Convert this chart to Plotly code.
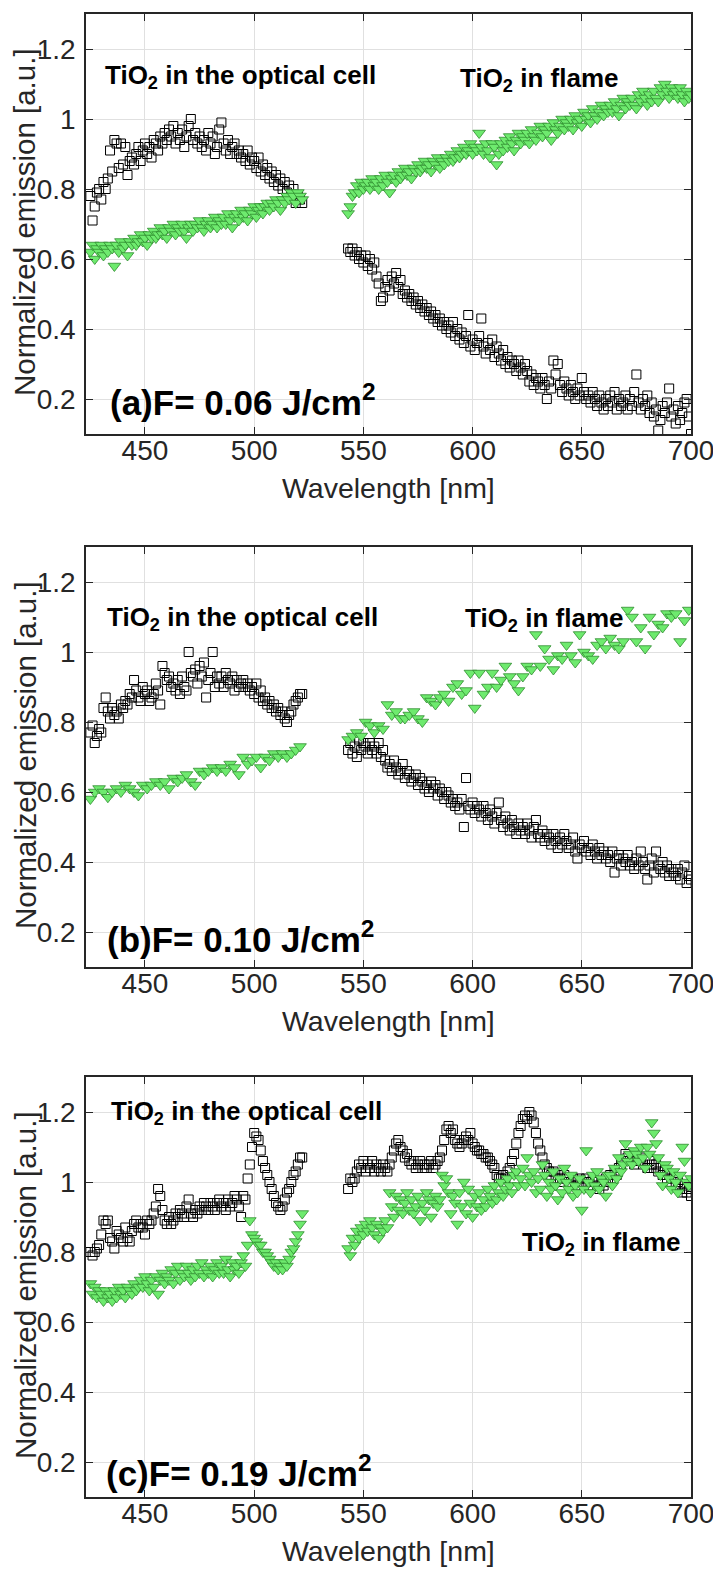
import plotly.graph_objects as go

# ---------------- data ----------------
wl_seg1 = list(range(425, 523))          # 425 ... 522 nm
wl_seg2 = list(range(543, 701))          # 543 ... 700 nm
wl_fine = wl_seg1 + wl_seg2
wl_coarse = list(range(425, 522, 2)) + list(range(543, 700, 2))

x_ticks = [450, 500, 550, 600, 650, 700]
y_ticks = [0.2, 0.4, 0.6, 0.8, 1.0, 1.2]
y_ticklabels = ["0.2", "0.4", "0.6", "0.8", "1", "1.2"]

# (a) F = 0.06 J/cm2 -- optical cell (squares)
cell_a_s1 = [
    0.78, 0.71, 0.75, 0.79, 0.80, 0.77, 0.82, 0.80, 0.83, 0.91,
    0.85, 0.94, 0.93, 0.86, 0.93, 0.87, 0.92, 0.84, 0.88, 0.89,
    0.87, 0.90, 0.92, 0.88, 0.91, 0.93, 0.90, 0.92, 0.89, 0.94,
    0.93, 0.91, 0.95, 0.93, 0.96, 0.94, 0.97, 0.95, 0.98, 0.93,
    0.96, 0.94, 0.97, 0.92, 0.95, 0.98, 1.00, 0.94, 0.96, 0.93,
    0.95, 0.92, 0.94, 0.91, 0.96, 0.93, 0.95, 0.90, 0.92, 0.97,
    0.99, 0.93, 0.91, 0.94, 0.90, 0.92, 0.93, 0.90, 0.91, 0.89,
    0.90, 0.88, 0.91, 0.87, 0.89, 0.88, 0.86, 0.89, 0.85, 0.87,
    0.84, 0.86, 0.83, 0.85, 0.82, 0.84, 0.81, 0.83, 0.80, 0.82,
    0.79, 0.81, 0.78, 0.80, 0.76, 0.78, 0.77, 0.76,
]
cell_a_s2 = [
    0.63, 0.62, 0.63, 0.61, 0.62, 0.60, 0.61, 0.59, 0.61, 0.58,
    0.60, 0.57, 0.59, 0.55, 0.53, 0.48, 0.49, 0.52, 0.54, 0.51,
    0.55, 0.53, 0.56, 0.52, 0.54, 0.50, 0.51, 0.49, 0.50, 0.48,
    0.49, 0.47, 0.48, 0.46, 0.47, 0.45, 0.46, 0.44, 0.45, 0.43,
    0.44, 0.42, 0.43, 0.41, 0.42, 0.40, 0.41, 0.39, 0.42, 0.38,
    0.40, 0.37, 0.39, 0.36, 0.38, 0.44, 0.35, 0.37, 0.34, 0.36,
    0.38, 0.43, 0.35, 0.33, 0.36, 0.34, 0.37, 0.32, 0.35, 0.33,
    0.31, 0.34, 0.30, 0.32, 0.29, 0.31, 0.30, 0.28, 0.31, 0.29,
    0.27, 0.30, 0.28, 0.25, 0.27, 0.24, 0.26, 0.25, 0.23, 0.26,
    0.24, 0.20, 0.25, 0.23, 0.31, 0.27, 0.30, 0.24, 0.22, 0.25,
    0.23, 0.21, 0.24, 0.22, 0.20, 0.23, 0.21, 0.26, 0.22, 0.20,
    0.21, 0.19, 0.22, 0.20, 0.18, 0.21, 0.19, 0.17, 0.20, 0.18,
    0.21, 0.19, 0.22, 0.17, 0.20, 0.18, 0.19, 0.21, 0.17, 0.20,
    0.18, 0.22, 0.27, 0.19, 0.17, 0.20, 0.18, 0.21, 0.16, 0.19,
    0.15, 0.17, 0.11, 0.14, 0.18, 0.16, 0.19, 0.23, 0.15, 0.17,
    0.13, 0.18, 0.14, 0.16, 0.19, 0.20, 0.15, 0.10,
]
# (a) flame (triangles)
flame_a_s1 = [
    0.62, 0.64, 0.60, 0.63, 0.62, 0.64, 0.61, 0.63, 0.62, 0.64,
    0.63, 0.58, 0.64, 0.62, 0.65, 0.63, 0.64, 0.61, 0.65, 0.64,
    0.66, 0.64, 0.65, 0.67, 0.65, 0.66, 0.64, 0.67, 0.66, 0.68,
    0.66, 0.67, 0.69, 0.67, 0.68, 0.66, 0.69, 0.68, 0.70, 0.67,
    0.69, 0.68, 0.70, 0.68, 0.66, 0.69, 0.70, 0.68, 0.70, 0.69,
    0.71, 0.69, 0.68, 0.70, 0.71, 0.69, 0.70, 0.72, 0.69, 0.71,
    0.70, 0.72, 0.70, 0.73, 0.71, 0.69, 0.72, 0.73, 0.71, 0.74,
    0.72, 0.73, 0.71, 0.74, 0.73, 0.75, 0.72, 0.74, 0.75, 0.73,
    0.75, 0.76, 0.74, 0.76, 0.75, 0.77, 0.76, 0.74, 0.77, 0.76,
    0.78, 0.77, 0.79, 0.78, 0.76, 0.79, 0.78, 0.77,
]
flame_a_s2 = [
    0.73, 0.75, 0.78, 0.79, 0.81, 0.79, 0.82, 0.80, 0.81, 0.82,
    0.80, 0.83, 0.81, 0.82, 0.80, 0.83, 0.81, 0.84, 0.82, 0.79,
    0.83, 0.84, 0.82, 0.85, 0.83, 0.84, 0.86, 0.84, 0.85, 0.83,
    0.86, 0.85, 0.87, 0.85, 0.86, 0.88, 0.86, 0.87, 0.85, 0.88,
    0.87, 0.89, 0.86, 0.88, 0.87, 0.89, 0.88, 0.90, 0.88, 0.89,
    0.91, 0.89, 0.90, 0.92, 0.90, 0.91, 0.93, 0.90, 0.92, 0.91,
    0.96, 0.92, 0.90, 0.93, 0.91, 0.89, 0.93, 0.92, 0.87, 0.90,
    0.93, 0.91, 0.94, 0.92, 0.95, 0.93, 0.91, 0.94, 0.96, 0.93,
    0.95, 0.94, 0.96, 0.93, 0.97, 0.95, 0.94, 0.96, 0.98, 0.95,
    0.97, 0.96, 0.98, 0.94, 0.99, 0.97, 0.96, 0.98, 1.00, 0.97,
    0.99, 0.98, 1.00, 0.97, 1.01, 0.99, 1.00, 0.98, 1.02, 1.00,
    1.01, 0.99, 1.03, 1.01, 1.00, 1.02, 1.04, 1.01, 1.03, 1.02,
    1.04, 1.02, 1.05, 1.03, 1.01, 1.04, 1.06, 1.03, 1.05, 1.04,
    1.06, 1.04, 1.03, 1.07, 1.05, 1.08, 1.06, 1.04, 1.07, 1.05,
    1.08, 1.06, 1.05, 1.09, 1.07, 1.10, 1.08, 1.06, 1.09, 1.07,
    1.08, 1.06, 1.09, 1.07, 1.05, 1.08, 1.06, 1.07,
]

# (b) F = 0.10 J/cm2
cell_b_s1 = [
    0.77, 0.79, 0.74, 0.76, 0.78, 0.77, 0.84, 0.87, 0.83, 0.81,
    0.84, 0.82, 0.83, 0.81, 0.85, 0.84, 0.86, 0.85, 0.88, 0.87,
    0.92, 0.89, 0.87, 0.86, 0.90, 0.88, 0.89, 0.86, 0.87, 0.88,
    0.91, 0.89, 0.85, 0.96, 0.94, 0.92, 0.93, 0.90, 0.91, 0.89,
    0.92, 0.88, 0.93, 0.90, 0.89, 1.00, 0.94, 0.93, 0.95, 0.91,
    0.96, 0.93, 0.97, 0.87, 0.92, 0.94, 1.00, 0.90, 0.93, 0.91,
    0.93, 0.90, 0.94, 0.92, 0.91, 0.93, 0.89, 0.92, 0.90, 0.91,
    0.92, 0.90, 0.91, 0.89, 0.90, 0.88, 0.91, 0.87, 0.89, 0.86,
    0.87, 0.85, 0.86, 0.84, 0.85, 0.83, 0.84, 0.82, 0.83, 0.81,
    0.80, 0.82, 0.83, 0.85, 0.86, 0.87, 0.88, 0.88,
]
cell_b_s2 = [
    0.72, 0.74, 0.71, 0.73, 0.70, 0.75, 0.72, 0.74, 0.73, 0.71,
    0.74, 0.72, 0.73, 0.71, 0.74, 0.70, 0.72, 0.69, 0.67, 0.68,
    0.66, 0.69, 0.67, 0.65, 0.66, 0.68, 0.64, 0.66, 0.65, 0.63,
    0.64, 0.65, 0.62, 0.64, 0.63, 0.61, 0.62, 0.60, 0.63, 0.61,
    0.62, 0.59, 0.61, 0.60, 0.58, 0.60, 0.59, 0.57, 0.58, 0.56,
    0.57, 0.55, 0.58, 0.50, 0.64, 0.56, 0.55, 0.57, 0.54, 0.56,
    0.55, 0.53, 0.56, 0.54, 0.52, 0.55, 0.53, 0.51, 0.54, 0.57,
    0.52, 0.50, 0.53, 0.51, 0.49, 0.52, 0.50, 0.48, 0.51, 0.49,
    0.50, 0.48, 0.51, 0.49, 0.47, 0.50, 0.52, 0.48, 0.47, 0.49,
    0.46, 0.48, 0.47, 0.45, 0.48, 0.46, 0.44, 0.47, 0.45, 0.48,
    0.46, 0.44, 0.45, 0.47, 0.43, 0.41, 0.45, 0.44, 0.46, 0.43,
    0.44, 0.42, 0.45, 0.43, 0.41, 0.44, 0.42, 0.43, 0.41, 0.42,
    0.40, 0.43, 0.37, 0.41, 0.42, 0.39, 0.41, 0.40, 0.42, 0.39,
    0.40, 0.38, 0.41, 0.39, 0.43, 0.40, 0.38, 0.35, 0.39, 0.41,
    0.37, 0.43, 0.39, 0.38, 0.40, 0.37, 0.39, 0.36, 0.38, 0.37,
    0.36, 0.38, 0.35, 0.37, 0.39, 0.34, 0.36, 0.35,
]
flame_b = [
    # 425 ... 521 nm, every 2 nm
    0.58, 0.60, 0.61, 0.60, 0.585, 0.60, 0.61, 0.60, 0.62, 0.61,
    0.60, 0.59, 0.62, 0.61, 0.62, 0.63, 0.62, 0.63, 0.61, 0.64,
    0.63, 0.64, 0.65, 0.63, 0.62, 0.66, 0.65, 0.66, 0.67, 0.66,
    0.67, 0.66, 0.68, 0.67, 0.65, 0.70, 0.68, 0.69, 0.70, 0.67,
    0.70, 0.69, 0.71, 0.70, 0.71, 0.70, 0.71, 0.72, 0.73,
    # 543 ... 699 nm, every 2 nm
    0.75, 0.76, 0.77, 0.76, 0.80, 0.79, 0.77, 0.79, 0.78, 0.85,
    0.82, 0.83, 0.81, 0.81, 0.82, 0.83, 0.81, 0.80, 0.87, 0.86,
    0.85, 0.87, 0.88, 0.86, 0.90, 0.91, 0.88, 0.89, 0.94, 0.84,
    0.94, 0.88, 0.90, 0.94, 0.90, 0.92, 0.96, 0.93, 0.91, 0.89,
    0.93, 0.96, 0.95, 1.05, 0.96, 1.01, 0.98, 0.95, 0.99, 0.98,
    1.02, 0.99, 0.97, 1.05, 1.00, 0.99, 0.98, 1.02, 1.03, 1.01,
    1.04, 1.02, 1.01, 1.03, 1.12, 1.10, 1.03, 1.07, 1.01, 1.10,
    1.05, 1.08, 1.07, 1.11, 1.10, 1.11, 1.03, 1.09, 1.12,
]

# (c) F = 0.19 J/cm2
cell_c_s1 = [
    0.80, 0.79, 0.80, 0.81, 0.82, 0.85, 0.89, 0.88, 0.89, 0.84,
    0.83, 0.81, 0.86, 0.85, 0.84, 0.83, 0.87, 0.84, 0.83, 0.86,
    0.88, 0.89, 0.87, 0.88, 0.87, 0.85, 0.89, 0.88, 0.89, 0.91,
    0.93, 0.98, 0.96, 0.92, 0.89, 0.88, 0.90, 0.88, 0.89, 0.91,
    0.90, 0.92, 0.91, 0.90, 0.93, 0.95, 0.91, 0.90, 0.92, 0.91,
    0.93, 0.92, 0.94, 0.93, 0.92, 0.94, 0.93, 0.92, 0.94, 0.95,
    0.93, 0.94, 0.92, 0.95, 0.93, 0.94, 0.96, 0.95, 0.93, 0.90,
    0.96, 0.95, 1.01, 1.05, 1.10, 1.14, 1.13, 1.12, 1.09, 1.06,
    1.04, 1.02, 1.00, 0.98, 0.96, 0.94, 0.93, 0.92, 0.93, 0.95,
    0.97, 0.98, 1.00, 1.02, 1.03, 1.05, 1.07, 1.07,
]
cell_c_s2 = [
    0.98, 1.01, 1.00, 1.01, 1.03, 1.05, 1.04, 1.06, 1.03, 1.05,
    1.04, 1.06, 1.03, 1.05, 1.04, 1.03, 1.05, 1.04, 1.03, 1.05,
    1.07, 1.09, 1.11, 1.12, 1.10, 1.09, 1.07, 1.08, 1.06, 1.05,
    1.06, 1.04, 1.05, 1.06, 1.04, 1.05, 1.04, 1.05, 1.06, 1.04,
    1.05, 1.06, 1.07, 1.09, 1.12, 1.15, 1.16, 1.14, 1.15, 1.12,
    1.11, 1.10, 1.11, 1.12, 1.13, 1.12, 1.14, 1.11, 1.10, 1.09,
    1.09, 1.08, 1.08, 1.07, 1.07, 1.06, 1.05, 1.04, 1.02, 1.01,
    1.01, 1.02, 1.01, 1.03, 1.04, 1.06, 1.08, 1.11, 1.14, 1.16,
    1.18, 1.19, 1.18, 1.20, 1.19, 1.17, 1.14, 1.11, 1.09, 1.07,
    1.05, 1.04, 1.03, 1.02, 1.03, 1.01, 1.02, 1.01, 1.00, 1.02,
    1.01, 1.00, 0.99, 1.01, 1.00, 0.99, 1.01, 1.00, 0.99, 1.01,
    1.00, 0.99, 1.01, 1.00, 0.99, 0.98, 1.00, 0.99, 1.01, 1.00,
    1.02, 1.01, 1.03, 1.02, 1.04, 1.05, 1.06, 1.08, 1.07, 1.06,
    1.07, 1.05, 1.08, 1.06, 1.07, 1.05, 1.06, 1.04, 1.06, 1.05,
    1.04, 1.05, 1.03, 1.04, 1.02, 1.03, 1.01, 1.02, 1.00, 1.01,
    0.99, 1.00, 0.98, 0.97, 0.99, 0.97, 0.98, 0.96,
]
flame_c_s1 = [
    0.71, 0.68, 0.70, 0.67, 0.69, 0.68, 0.66, 0.69, 0.67, 0.68,
    0.66, 0.69, 0.67, 0.70, 0.68, 0.69, 0.67, 0.70, 0.69, 0.68,
    0.71, 0.69, 0.70, 0.72, 0.70, 0.73, 0.71, 0.69, 0.72, 0.70,
    0.73, 0.68, 0.72, 0.74, 0.71, 0.73, 0.72, 0.75, 0.71, 0.74,
    0.76, 0.72, 0.74, 0.73, 0.76, 0.74, 0.72, 0.75, 0.73, 0.76,
    0.74, 0.77, 0.73, 0.75, 0.74, 0.76, 0.73, 0.75, 0.77, 0.74,
    0.76, 0.74, 0.78, 0.75, 0.73, 0.77, 0.75, 0.76, 0.74, 0.77,
    0.79, 0.76, 0.82, 0.89, 0.85, 0.84, 0.83, 0.82, 0.82, 0.80,
    0.80, 0.79, 0.78, 0.77, 0.76, 0.77, 0.75, 0.76, 0.75, 0.77,
    0.76, 0.78, 0.80, 0.81, 0.83, 0.85, 0.88, 0.91,
]
flame_c_s2 = [
    0.81, 0.79, 0.84, 0.82, 0.86, 0.84, 0.87, 0.85, 0.88, 0.86,
    0.89, 0.87, 0.85, 0.88, 0.84, 0.87, 0.86, 0.89, 0.87, 0.97,
    0.93, 0.90, 0.96, 0.92, 0.95, 0.91, 0.94, 0.97, 0.92, 0.95,
    0.91, 0.93, 0.96, 0.89, 0.94, 0.92, 0.97, 0.95, 0.90, 0.94,
    0.96, 0.93, 0.95, 1.02, 0.99, 1.01, 0.97, 0.91, 0.96, 0.94,
    0.88, 0.97, 0.93, 1.00, 0.91, 0.98, 0.94, 0.90, 0.96, 0.93,
    0.97, 0.92, 0.95, 0.93, 0.98, 0.96, 0.94, 0.99, 0.95, 0.97,
    1.00, 0.96, 0.98, 1.01, 0.99, 0.97, 1.02, 1.03, 0.99, 1.01,
    1.04, 0.99, 1.07, 1.02, 1.00, 1.03, 0.97, 1.01, 0.98, 1.05,
    1.02, 0.96, 1.00, 0.98, 1.03, 0.99, 0.95, 1.01, 0.97, 1.04,
    1.00, 0.98, 1.02, 0.96, 0.99, 0.97, 1.01, 0.92, 0.98, 1.09,
    1.00, 0.97, 1.02, 0.99, 1.03, 0.98, 1.01, 1.00, 0.96, 1.02,
    1.02, 0.99, 1.04, 1.01, 1.07, 1.03, 1.05, 1.11, 1.06, 1.08,
    1.05, 1.09, 1.08, 1.06, 1.10, 1.07, 1.04, 1.10, 1.08, 1.17,
    1.14, 1.11, 1.07, 1.02, 0.99, 1.05, 1.04, 1.01, 0.98, 1.03,
    1.00, 0.97, 1.02, 1.10, 1.06, 1.00, 0.99, 1.01,
]

panel_labels = ["(a)F= 0.06 J/cm<sup>2</sup>",
                "(b)F= 0.10 J/cm<sup>2</sup>",
                "(c)F= 0.19 J/cm<sup>2</sup>"]
cell_label = "TiO<sub>2</sub> in the optical cell"
flame_label = "TiO<sub>2</sub> in flame"

# ---------------- figure ----------------
W, H = 713, 1575
X_LEFT, X_RIGHT = 86, 691
PANEL_TOPS = [14, 547, 1077]
PANEL_H = 420
FONT = "Liberation Sans, Arial, Helvetica, sans-serif"
AX_COL = "#262626"

panels = [
    dict(cx=wl_fine, cy=cell_a_s1 + cell_a_s2, fx=wl_fine, fy=flame_a_s1 + flame_a_s2,
         ann=[(430.8, 1.12, cell_label), (593.5, 1.114, flame_label), (433.0, 0.196, panel_labels[0])]),
    dict(cx=wl_fine, cy=cell_b_s1 + cell_b_s2, fx=wl_coarse, fy=flame_b,
         ann=[(431.7, 1.097, cell_label), (595.8, 1.094, flame_label), (431.7, 0.187, panel_labels[1])]),
    dict(cx=wl_fine, cy=cell_c_s1 + cell_c_s2, fx=wl_fine, fy=flame_c_s1 + flame_c_s2,
         ann=[(433.4, 1.20, cell_label), (621.9, 0.825, flame_label), (431.3, 0.175, panel_labels[2])]),
]

fig = go.Figure()
annotations = []
layout_axes = {}

for i, p in enumerate(panels):
    sfx = "" if i == 0 else str(i + 1)
    xa, ya = "x" + sfx, "y" + sfx
    fig.add_trace(go.Scatter(
        x=p["cx"], y=p["cy"], mode="markers", xaxis=xa, yaxis=ya, showlegend=False,
        name="TiO2 in the optical cell",
        marker=dict(symbol="square-open", size=9, color="black", line=dict(width=1, color="black")),
    ))
    fig.add_trace(go.Scatter(
        x=p["fx"], y=p["fy"], mode="markers", xaxis=xa, yaxis=ya, showlegend=False,
        name="TiO2 in flame",
        marker=dict(symbol="triangle-down", size=11, color="rgb(110,234,110)",
                    line=dict(width=0.8, color="rgb(45,140,45)")),
    ))
    top = PANEL_TOPS[i]
    bot = top + PANEL_H
    common = dict(showline=True, linecolor=AX_COL, linewidth=1.5, mirror="ticks",
                  ticks="inside", ticklen=7, tickwidth=1, tickcolor=AX_COL,
                  showgrid=True, gridcolor="#e0e0e0", gridwidth=1, zeroline=False,
                  automargin=False, ticklabeloverflow="allow",
                  tickfont=dict(family=FONT, size=28, color=AX_COL))
    layout_axes["xaxis" + sfx] = dict(
        domain=[X_LEFT / W, X_RIGHT / W], range=[423, 700], anchor=ya,
        tickvals=x_ticks, ticklabelstandoff=-9, **common)
    layout_axes["yaxis" + sfx] = dict(
        domain=[1 - bot / H, 1 - top / H], range=[0.1, 1.3], anchor=xa,
        tickvals=y_ticks, ticktext=y_ticklabels, ticklabelstandoff=3, **common)

    for (ax_x, ax_y, txt) in p["ann"]:
        big = txt.startswith("(")
        annotations.append(dict(
            x=ax_x, y=ax_y, xref=xa, yref=ya, text="<b>" + txt + "</b>",
            showarrow=False, xanchor="left", yanchor="middle",
            font=dict(family=FONT, size=35 if big else 26, color="black")))
    # axis titles
    annotations.append(dict(
        x=25 / W, y=1 - (top + 208) / H, xref="paper", yref="paper",
        text="Normalized emission [a.u.]", textangle=-90, showarrow=False,
        xanchor="center", yanchor="middle",
        font=dict(family=FONT, size=29.5, color=AX_COL)))
    annotations.append(dict(
        x=(X_LEFT + X_RIGHT) / 2 / W, y=1 - (bot + 54) / H, xref="paper", yref="paper",
        text="Wavelength [nm]", showarrow=False, xanchor="center", yanchor="middle",
        font=dict(family=FONT, size=28.5, color=AX_COL)))

fig.update_layout(
    width=W, height=H, margin=dict(l=0, r=0, t=0, b=0),
    paper_bgcolor="white", plot_bgcolor="white",
    annotations=annotations, **layout_axes,
)

fig.write_html(
    "out.html",
    config={"displayModeBar": False},
    post_script="document.body.style.margin='0px';document.body.style.padding='0px';"
                "document.documentElement.style.overflow='hidden';",
)
